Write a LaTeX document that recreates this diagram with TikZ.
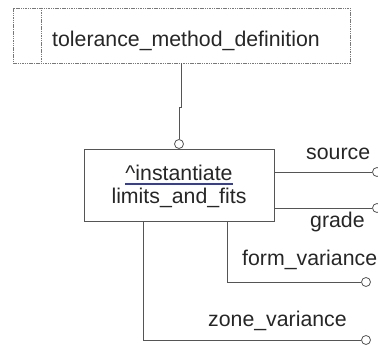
\documentclass[tikz,border=0pt]{standalone}
\usepackage{fontspec}
\setmainfont{Liberation Sans}
\usetikzlibrary{positioning}
\definecolor{linegray}{RGB}{85,85,85}
\definecolor{dashgray}{RGB}{120,120,120}
\definecolor{ulblue}{RGB}{50,60,170}
\tikzset{
lbl/.style={
  inner sep=0pt,
  anchor=base west,
  text=black!85,
  font=\fontsize{21.3}{25}\selectfont
  },
dashbox/.style={
  draw=dashgray,
  line width=0.7pt,
  dash pattern=on 1.5pt off 0.8pt
  },
ebox/.style={
  draw=linegray,
  line width=0.9pt,
  minimum width=190pt,
  minimum height=72pt
  },
port/.style={
  circle,
  draw=linegray,
  fill=white,
  line width=0.8pt,
  minimum size=9pt,
  inner sep=0pt
  },
conn/.style={
  draw=linegray,
  line width=0.8pt
  }
}

\begin{document}
\begin{tikzpicture}[x=1pt,y=-1pt]
\useasboundingbox (0,0) rectangle (378,345);

\node[dashbox,minimum width=337pt,minimum height=55pt] (tmd) at (181.5,35.5) {};
\draw[dashbox] ([xshift=29pt]tmd.north west) -- ([xshift=29pt]tmd.south west);
\node[lbl] (tmdl) at (52,47) {tolerance\_method\_definition};

\node[ebox] (lf) at (179,185) {};
\node[lbl,anchor=base] (inst) at (179,180) {\textasciicircum instantiate};
\node[lbl,anchor=base] (lim) at (179,203) {limits\_and\_fits};
\draw[ulblue,line width=2pt] ([yshift=-3.5pt]inst.base west) -- ([yshift=-3.5pt]inst.base east);

\node[port] (p1) at (179,144) {};
\node[port] (p2) at (377,172) {};
\node[port] (p3) at (377,208) {};
\node[port] (p4) at (366,282) {};
\node[port] (p5) at (366,340) {};

\draw[conn] (tmd.south) -- ++(0,44) -- ++(-2.5,0) -- (p1);
\draw[conn] (lf.east |- p2) -- (p2);
\draw[conn] (lf.east |- p3) -- (p3);
\draw[conn] ([xshift=48pt]lf.south) |- (p4);
\draw[conn] ([xshift=-36pt]lf.south) |- (p5);

\node[lbl] (src) at (306,159) {source};
\node[lbl] (grd) at (310,227) {grade};
\node[lbl] (fv) at (242,265) {form\_variance};
\node[lbl] (zv) at (208,326) {zone\_variance};
\end{tikzpicture}
\end{document}
